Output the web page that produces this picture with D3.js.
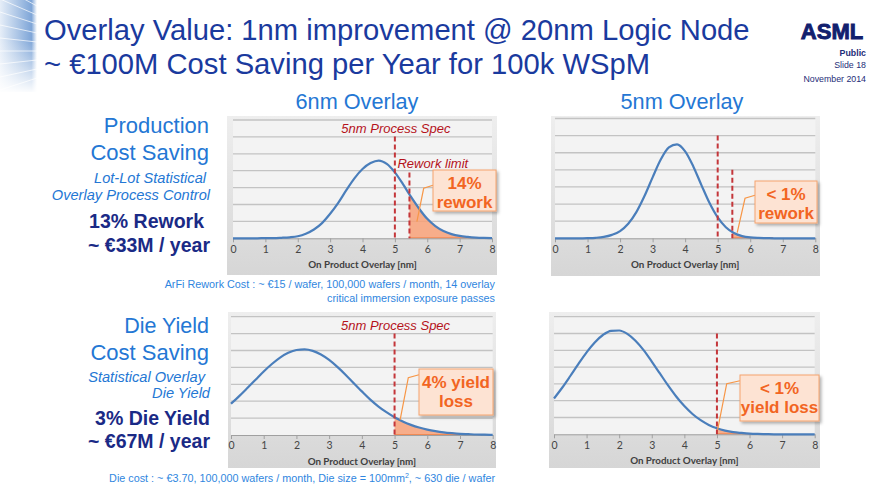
<!DOCTYPE html>
<html>
<head>
<meta charset="utf-8">
<script src="https://cdnjs.cloudflare.com/ajax/libs/d3/7.8.5/d3.min.js"></script>
<style>
  body { margin: 0; background: #fff; }
  svg { display: block; font-family: "Liberation Sans", Arial, sans-serif; }
</style>
</head>
<body>
<div id="slide"></div>
<script>
// x values of the curves (On Product Overlay, nm)
var overlayNm = [0, 0.25, 0.5, 0.75, 1, 1.25, 1.5, 1.75, 2, 2.25, 2.5, 2.75, 3, 3.25, 3.5, 3.75,
                 4, 4.25, 4.5, 4.75, 5, 5.25, 5.5, 5.75, 6, 6.25, 6.5, 6.75, 7, 7.25, 7.5, 7.75, 8];

// curve heights (in grid-line units)
var prod6nm  = [0, 0, 0, 0, 0.01, 0.01, 0.03, 0.06, 0.12, 0.27, 0.52, 0.9, 1.45, 2.1, 2.85, 3.55,
                4.1, 4.45, 4.6, 4.4, 3.9, 3.2, 2.45, 1.75, 1.15, 0.72, 0.43, 0.25, 0.14, 0.08, 0.04, 0.02, 0.01];
var prod5nm  = [0, 0, 0, 0, 0.01, 0.03, 0.08, 0.2, 0.42, 0.85, 1.53, 2.47, 3.56, 4.6, 5.31, 5.49,
                5.08, 4.2, 3.11, 2.06, 1.22, 0.65, 0.31, 0.13, 0.05, 0.02, 0.01, 0, 0, 0, 0, 0, 0];
var yield6nm = [1.85, 2.3, 2.78, 3.27, 3.76, 4.2, 4.58, 4.86, 5.03, 5.07, 4.98, 4.76, 4.44, 4.03, 3.57, 3.07,
                2.58, 2.11, 1.7, 1.35, 1.05, 0.8, 0.6, 0.44, 0.32, 0.23, 0.16, 0.11, 0.07, 0.05, 0.03, 0.02, 0.01];
var yield5nm = [2.13, 2.77, 3.47, 4.19, 4.88, 5.47, 5.91, 6.16, 6.18, 5.98, 5.57, 5.01, 4.33, 3.62, 2.91, 2.25,
                1.68, 1.21, 0.84, 0.56, 0.36, 0.22, 0.13, 0.08, 0.04, 0.02, 0.01, 0, 0, 0, 0, 0, 0];

var xTicks = [0, 1, 2, 3, 4, 5, 6, 7, 8];
var gridLevels = [1, 2, 3, 4, 5, 6, 7];
var specLimit = 5;
var reworkLimit = 5.45;
var shadeEnd = [7.9, 6.7, 7.6, 6.5];
var calloutText = [["14%", "rework"], ["< 1%", "rework"], ["4% yield", "loss"], ["< 1%", "yield loss"]];
// leader line points (data units): bend point and tip
var leaderBend = [[5.89, 2.96], [5.84, 2.34], [5.42, 3.39], [5.3, 3.01]];
var leaderTip  = [[5.68, 0.98], [5.6, 0.33], [5.17, 0.89], [5.02, 0.26]];

var W = 880, H = 495;
var svg = d3.select("#slide").append("svg")
    .attr("width", W)
    .attr("height", H);

var defs = svg.append("defs");
var bg = defs.append("linearGradient").attr("id", "chartBg")
    .attr("x1", 0).attr("y1", 0).attr("x2", 0).attr("y2", 1);
bg.append("stop").attr("offset", "0%").attr("stop-color", "#eeeeee");
bg.append("stop").attr("offset", "100%").attr("stop-color", "#d6d6d6");

var deco = defs.append("linearGradient").attr("id", "deco")
    .attr("x1", 0).attr("y1", 0).attr("x2", 1).attr("y2", 0);
deco.append("stop").attr("offset", "0%").attr("stop-color", "#e6eef8");
deco.append("stop").attr("offset", "85%").attr("stop-color", "#7fa6d8");
deco.append("stop").attr("offset", "100%").attr("stop-color", "#ffffff");
var decoFade = defs.append("linearGradient").attr("id", "decoFade")
    .attr("x1", 0).attr("y1", 0).attr("x2", 0).attr("y2", 1);
decoFade.append("stop").attr("offset", "0%").attr("stop-color", "#fff").attr("stop-opacity", 0);
decoFade.append("stop").attr("offset", "100%").attr("stop-color", "#fff").attr("stop-opacity", 1);

defs.append("filter").attr("id", "shadow")
    .attr("x", "-20%").attr("y", "-20%").attr("width", "150%").attr("height", "150%")
  .append("feDropShadow")
    .attr("dx", 2).attr("dy", 2).attr("stdDeviation", 1.5)
    .attr("flood-color", "#000").attr("flood-opacity", 0.3);

// left decoration band
svg.append("rect").attr("x", 0).attr("y", 0).attr("width", 37).attr("height", 92).attr("fill", "url(#deco)");
for (var i = 0; i < 9; i++) {
    svg.append("line")
        .attr("x1", 37).attr("y1", 6 + i * 9)
        .attr("x2", 0).attr("y2", -14 + i * 13)
        .attr("stroke", "#fff").attr("stroke-opacity", 0.7).attr("stroke-width", 1);
}
svg.append("rect").attr("x", 0).attr("y", 40).attr("width", 38).attr("height", 54).attr("fill", "url(#decoFade)");

// titles
var titleColor = "#1a3a9e";
svg.append("text").attr("x", 44).attr("y", 39.5)
    .attr("font-size", 29.2).attr("fill", titleColor)
    .text("Overlay Value: 1nm improvement @ 20nm Logic Node");
svg.append("text").attr("x", 44).attr("y", 74)
    .attr("font-size", 29.2).attr("fill", titleColor)
    .text("~ €100M Cost Saving per Year for 100k WSpM");

// logo and slide info
svg.append("text").attr("x", 832).attr("y", 38.5).attr("text-anchor", "middle")
    .attr("font-size", 22).attr("font-weight", "bold").attr("fill", "#12206e")
    .attr("stroke", "#12206e").attr("stroke-width", 0.9)
    .text("ASML");
var info = [["Public", 56, "bold"], ["Slide 18", 67.5, "normal"], ["November 2014", 81.5, "normal"]];
info.forEach(function (d) {
    svg.append("text").attr("x", 866).attr("y", d[1]).attr("text-anchor", "end")
        .attr("font-size", 8.8).attr("font-weight", d[2]).attr("fill", "#1e2d78")
        .text(d[0]);
});

// column headings
var headColor = "#2477d4";
svg.append("text").attr("x", 357).attr("y", 109).attr("text-anchor", "middle")
    .attr("font-size", 21.7).attr("fill", headColor).text("6nm Overlay");
svg.append("text").attr("x", 682).attr("y", 109).attr("text-anchor", "middle")
    .attr("font-size", 21.7).attr("fill", headColor).text("5nm Overlay");

// left side labels
var lightBlue = "#2477d4", navy = "#1a2a86";
var sideText = [
    ["Production", 133, 22, "normal", "normal", lightBlue, 209],
    ["Cost Saving", 160, 22, "normal", "normal", lightBlue, 209],
    ["Lot-Lot Statistical", 182.7, 14.6, "normal", "italic", lightBlue, 206],
    ["Overlay Process Control", 200, 14.6, "normal", "italic", lightBlue, 210],
    ["13% Rework", 228.3, 19.5, "bold", "normal", navy, 204],
    ["~ €33M / year", 251.7, 19.5, "bold", "normal", navy, 210],
    ["Die Yield", 333.3, 21.5, "normal", "normal", lightBlue, 209],
    ["Cost Saving", 360, 22, "normal", "normal", lightBlue, 209],
    ["Statistical Overlay", 381.7, 14.6, "normal", "italic", lightBlue, 205],
    ["Die Yield", 398.3, 14.6, "normal", "italic", lightBlue, 210],
    ["3% Die Yield", 425, 19.5, "bold", "normal", navy, 210],
    ["~ €67M / year", 448.3, 19.5, "bold", "normal", navy, 210]
];
sideText.forEach(function (d) {
    svg.append("text").attr("x", d[6]).attr("y", d[1]).attr("text-anchor", "end")
        .attr("font-size", d[2]).attr("font-weight", d[3]).attr("font-style", d[4])
        .attr("fill", d[5]).text(d[0]);
});

// footnotes
var noteColor = "#2f86e0";
svg.append("text").attr("x", 495).attr("y", 287.5).attr("text-anchor", "end")
    .attr("font-size", 10.8).attr("fill", noteColor)
    .text("ArFi Rework Cost : ~ €15 / wafer, 100,000 wafers / month, 14 overlay");
svg.append("text").attr("x", 495).attr("y", 301.5).attr("text-anchor", "end")
    .attr("font-size", 10.8).attr("fill", noteColor)
    .text("critical immersion exposure passes");
var foot = svg.append("text").attr("x", 495).attr("y", 481.5).attr("text-anchor", "end")
    .attr("font-size", 10.8).attr("fill", noteColor);
foot.append("tspan").text("Die cost : ~ €3.70, 100,000 wafers / month, Die size = 100mm");
foot.append("tspan").attr("font-size", 7).attr("dy", -4).text("2");
foot.append("tspan").attr("dy", 4).text(", ~ 630 die / wafer");

// the four charts
var charts = [
    { values: prod6nm,  box: [227, 116, 497, 275], plot: [233, 120, 492, 238.3], limits: [specLimit, reworkLimit],
      specTop: 6.02, reworkTop: 3.9, specLabel: true, reworkLabel: true, callout: [433, 170, 63, 41] },
    { values: prod5nm,  box: [551, 116, 820, 276], plot: [555, 118.5, 815.3, 238.3], limits: [specLimit, reworkLimit],
      specTop: 6, reworkTop: 4, specLabel: false, reworkLabel: false, callout: [755, 181, 62, 42] },
    { values: yield6nm, box: [228, 312, 496, 468], plot: [231, 316.7, 492.7, 435], limits: [specLimit],
      specTop: 6, specLabel: true, callout: [419, 369, 74, 46] },
    { values: yield5nm, box: [549, 312, 820, 468], plot: [554, 316.7, 814.7, 434.3], limits: [specLimit],
      specTop: 6, specLabel: false, callout: [740, 375, 79, 46] }
];

var redDash = "#c4363a";
var orange = "#f26522";

charts.forEach(function (c, ci) {
    var g = svg.append("g");
    var x = d3.scaleLinear().domain([0, 8]).range([c.plot[0], c.plot[2]]);
    var y = d3.scaleLinear().domain([0, 7]).range([c.plot[3], c.plot[1]]);
    var pts = overlayNm.map(function (v, k) { return [v, c.values[k]]; });

    // chart frame and plot area
    g.append("rect").attr("x", c.box[0]).attr("y", c.box[1])
        .attr("width", c.box[2] - c.box[0]).attr("height", c.box[3] - c.box[1])
        .attr("fill", "url(#chartBg)");
    g.append("rect").attr("x", x(0)).attr("y", y(7))
        .attr("width", x(8) - x(0)).attr("height", y(0) - y(7))
        .attr("fill", "#f3f3f3");

    g.selectAll(".grid").data(gridLevels).enter().append("line")
        .attr("x1", x(0)).attr("x2", x(8))
        .attr("y1", function (d) { return y(d); }).attr("y2", function (d) { return y(d); })
        .attr("stroke", "#c3c3c3").attr("stroke-width", 1.3);

    // shaded tail
    var clipId = "clip" + ci;
    var lim = c.limits[c.limits.length - 1];
    defs.append("clipPath").attr("id", clipId).append("rect")
        .attr("x", x(lim)).attr("y", y(7))
        .attr("width", x(shadeEnd[ci]) - x(lim)).attr("height", y(0) - y(7) + 1);
    var area = d3.area().curve(d3.curveMonotoneX)
        .x(function (d) { return x(d[0]); })
        .y0(y(0)).y1(function (d) { return y(d[1]); });
    g.append("path").datum(pts).attr("d", area)
        .attr("clip-path", "url(#" + clipId + ")")
        .attr("fill", "#f7a077").attr("fill-opacity", 0.85);
    g.append("line").attr("x1", x(lim)).attr("x2", x(shadeEnd[ci]))
        .attr("y1", y(0) - 0.5).attr("y2", y(0) - 0.5)
        .attr("stroke", "#f08a55").attr("stroke-width", 1.2);

    // x axis
    var axis = g.append("g").attr("transform", "translate(0," + y(0) + ")")
        .call(d3.axisBottom(x).tickValues(xTicks).tickSize(4).tickPadding(3).tickSizeOuter(0));
    axis.select(".domain").attr("stroke", "#a0a0a0");
    axis.selectAll(".tick line").attr("stroke", "#a0a0a0");
    axis.selectAll(".tick text").attr("fill", "#454545")
        .attr("font-family", "Lato, sans-serif").attr("font-size", 10.5);
    g.append("text").attr("x", (x(0) + x(8)) / 2).attr("y", y(0) + 29.5)
        .attr("text-anchor", "middle").attr("font-family", "Lato, sans-serif")
        .attr("font-size", 9.8).attr("font-weight", "bold").attr("fill", "#404040")
        .text("On Product Overlay [nm]");

    // curve
    var line = d3.line().curve(d3.curveMonotoneX)
        .x(function (d) { return x(d[0]); })
        .y(function (d) { return y(d[1]); });
    g.append("path").datum(pts).attr("d", line)
        .attr("fill", "none").attr("stroke", "#4a7ebb").attr("stroke-width", 2.2);

    // dashed limits
    g.append("line").attr("x1", x(specLimit)).attr("x2", x(specLimit))
        .attr("y1", y(c.specTop)).attr("y2", y(0))
        .attr("stroke", redDash).attr("stroke-width", 2).attr("stroke-dasharray", "5,3");
    if (c.limits.length > 1) {
        g.append("line").attr("x1", x(reworkLimit)).attr("x2", x(reworkLimit))
            .attr("y1", y(c.reworkTop)).attr("y2", y(0))
            .attr("stroke", redDash).attr("stroke-width", 2).attr("stroke-dasharray", "5,3");
    }
    if (c.specLabel) {
        g.append("text").attr("x", x(specLimit) + 1).attr("y", y(c.specTop) - 3.5)
            .attr("text-anchor", "middle").attr("font-size", 13).attr("font-style", "italic")
            .attr("fill", "#b5121b").text("5nm Process Spec");
    }
    if (c.reworkLabel) {
        g.append("text").attr("x", x(specLimit) + 2.5).attr("y", y(c.reworkTop) - 4)
            .attr("font-size", 13).attr("font-style", "italic")
            .attr("fill", "#b5121b").text("Rework limit");
    }

    // callout
    var cb = c.callout;
    g.append("polyline")
        .attr("points", [[cb[0], y(leaderBend[ci][1]) - 3], [x(leaderBend[ci][0]), y(leaderBend[ci][1])],
                         [x(leaderTip[ci][0]), y(leaderTip[ci][1])]].join(" "))
        .attr("fill", "none").attr("stroke", "#f79646").attr("stroke-width", 1.2);
    g.append("rect").attr("x", cb[0]).attr("y", cb[1]).attr("width", cb[2]).attr("height", cb[3])
        .attr("fill", "#fde3d3").attr("stroke", "#f5a46f").attr("stroke-width", 1)
        .attr("filter", "url(#shadow)");
    calloutText[ci].forEach(function (t, k) {
        g.append("text").attr("x", cb[0] + cb[2] / 2).attr("y", cb[1] + 18.5 + k * 19.5)
            .attr("text-anchor", "middle").attr("font-size", 17).attr("font-weight", "bold")
            .attr("fill", orange).text(t);
    });
});
</script>
</body>
</html>
